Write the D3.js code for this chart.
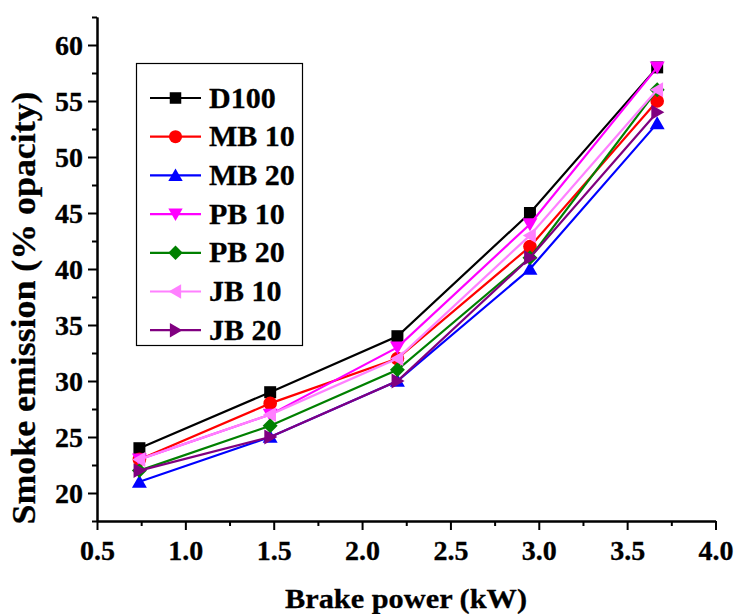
<!DOCTYPE html>
<html>
<head>
<meta charset="utf-8">
<script src="https://cdn.jsdelivr.net/npm/d3@7"></script>
<style>
  html, body { margin: 0; padding: 0; background: #fff; }
  svg text { font-family: "Liberation Serif", "Times New Roman", Times, serif; font-weight: bold; fill: #000; stroke: #000; stroke-width: 0.3px; }
</style>
</head>
<body>
<svg id="chart" width="735" height="614"></svg>
<script>
// Brake power (kW) at each load step
const brakePower = [0.74, 1.48, 2.2, 2.95, 3.67];

// Smoke emission (% opacity) per fuel blend
const seriesNames = ["D100", "MB 10", "MB 20", "PB 10", "PB 20", "JB 10", "JB 20"];
const d100 = [24, 29, 34, 45, 58];
const mb10 = [23, 28, 32, 42, 55];
const mb20 = [21, 25, 30, 40, 53];
const pb10 = [23, 27, 33, 44, 58];
const pb20 = [22, 26, 31, 41, 56];
const jb10 = [23, 27, 32, 43, 56];
const jb20 = [22, 25, 30, 41, 54];

// Axis ticks
const xMajorTicks = [0.5, 1.0, 1.5, 2.0, 2.5, 3.0, 3.5, 4.0];
const xMinorTicks = [0.75, 1.25, 1.75, 2.25, 2.75, 3.25, 3.75];
const yMajorTicks = [20, 25, 30, 35, 40, 45, 50, 55, 60];
const yMinorTicks = [17.5, 22.5, 27.5, 32.5, 37.5, 42.5, 47.5, 52.5, 57.5, 62.5];

const seriesValues = [d100, mb10, mb20, pb10, pb20, jb10, jb20];
const colors = ["#000000", "#ff0000", "#0000ff", "#ff00ff", "#008000", "#ff80ff", "#800080"];
const symbols = ["square", "circle", "up", "down", "diamond", "left", "right"];

const svg = d3.select("#chart");

const x = d3.scaleLinear().domain([0.5, 4.0]).range([97, 715.5]);
const y = d3.scaleLinear().domain([17.5, 62.5]).range([521, 17]);

// Marker path generator, centred at the origin
function markerPath(kind, s) {
  const h = s / 2;
  switch (kind) {
    case "up":    return `M0,${-h*1.1}L${h*1.15},${h*0.9}L${-h*1.15},${h*0.9}Z`;
    case "down":  return `M0,${h*1.1}L${h*1.15},${-h*0.9}L${-h*1.15},${-h*0.9}Z`;
    case "left":  return `M${-h*1.1},0L${h*0.9},${-h*1.15}L${h*0.9},${h*1.15}Z`;
    case "right": return `M${h*1.1},0L${-h*0.9},${-h*1.15}L${-h*0.9},${h*1.15}Z`;
    case "diamond": return `M0,${-h*1.15}L${h*1.15},0L0,${h*1.15}L${-h*1.15},0Z`;
    case "square": return d3.symbol(d3.symbolSquare, s * s * 0.85)();
    default:       return d3.symbol(d3.symbolCircle, Math.PI * h * h * 1.1)();
  }
}

// Axes: major ticks with labels, minor ticks without
const xAxisMajor = d3.axisBottom(x).tickValues(xMajorTicks).tickSize(9).tickSizeOuter(0).tickPadding(9)
  .tickFormat(d3.format(".1f"));
const xAxisMinor = d3.axisBottom(x).tickValues(xMinorTicks).tickSize(5).tickSizeOuter(0).tickFormat("");
const yAxisMajor = d3.axisLeft(y).tickValues(yMajorTicks).tickSize(9).tickSizeOuter(0).tickPadding(5)
  .tickFormat(d3.format("d"));
const yAxisMinor = d3.axisLeft(y).tickValues(yMinorTicks).tickSize(5).tickSizeOuter(0).tickFormat("");

function styleAxis(g) {
  g.attr("font-family", null).attr("font-size", null);
  g.select(".domain").attr("stroke", "#000").attr("stroke-width", 2);
  g.selectAll(".tick line").attr("stroke", "#000").attr("stroke-width", 2);
  g.selectAll(".tick text").style("font-size", "28px");
}

svg.append("g").attr("transform", "translate(0,521)").call(xAxisMinor).call(styleAxis);
svg.append("g").attr("transform", "translate(0,521)").call(xAxisMajor).call(styleAxis)
  .selectAll(".tick text").attr("dy", "0.75em");
svg.append("g").attr("transform", "translate(97,0)").call(yAxisMinor).call(styleAxis);
svg.append("g").attr("transform", "translate(97,0)").call(yAxisMajor).call(styleAxis)
  .selectAll(".tick text").attr("dy", "0.34em");

// Axis titles
svg.append("text")
  .attr("x", 406).attr("y", 608)
  .attr("text-anchor", "middle")
  .style("font-size", "28px")
  .attr("textLength", 242).attr("lengthAdjust", "spacingAndGlyphs")
  .text("Brake power (kW)");

svg.append("text")
  .attr("transform", "translate(35,308) rotate(-90)")
  .attr("text-anchor", "middle")
  .style("font-size", "34px")
  .attr("textLength", 433).attr("lengthAdjust", "spacingAndGlyphs")
  .text("Smoke emission (% opacity)");

// Series lines and markers
const line = d3.line().x((d, i) => x(brakePower[i])).y(d => y(d));

seriesValues.forEach((vals, k) => {
  const g = svg.append("g");
  g.append("path")
    .attr("d", line(vals))
    .attr("fill", "none")
    .attr("stroke", colors[k])
    .attr("stroke-width", 2.2);
  g.selectAll("path.marker")
    .data(vals)
    .join("path")
    .attr("class", "marker")
    .attr("transform", (d, i) => `translate(${x(brakePower[i])},${y(d)})`)
    .attr("d", markerPath(symbols[k], 13))
    .attr("fill", colors[k]);
});

// Legend
const legend = svg.append("g");
legend.append("rect")
  .attr("x", 136.5).attr("y", 63.5).attr("width", 166).attr("height", 282)
  .attr("fill", "#fff").attr("stroke", "#000").attr("stroke-width", 1.2);

seriesNames.forEach((name, k) => {
  const cy = 98 + k * 38.7;
  legend.append("line")
    .attr("x1", 150).attr("x2", 201).attr("y1", cy).attr("y2", cy)
    .attr("stroke", colors[k]).attr("stroke-width", 2.2);
  legend.append("path")
    .attr("transform", `translate(175.5,${cy})`)
    .attr("d", markerPath(symbols[k], 12.5))
    .attr("fill", colors[k]);
  legend.append("text")
    .attr("x", 209).attr("y", cy + 9.5)
    .style("font-size", "30px")
    .text(name);
});
</script>
</body>
</html>
